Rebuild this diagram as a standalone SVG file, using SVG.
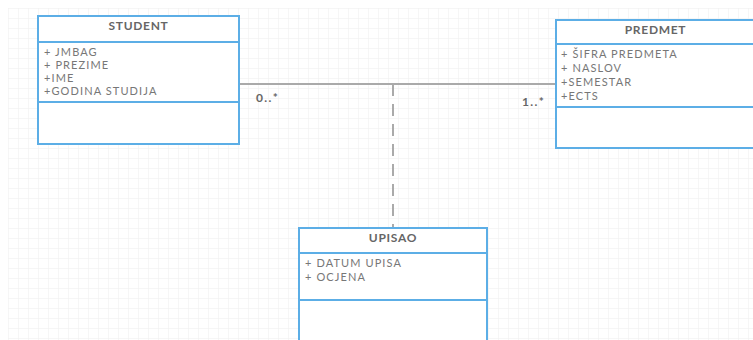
<svg xmlns="http://www.w3.org/2000/svg" width="753" height="340" viewBox="0 0 753 340">
<defs>
<pattern id="grid" x="8" y="8" width="10" height="10" patternUnits="userSpaceOnUse">
<path d="M0 0H10M0 0V10" fill="none" stroke="#eeeeee" stroke-width="1"/>
</pattern>
<style>
.box{fill:#ffffff;stroke:#5caee6;stroke-width:2}
.div{stroke:#5caee6;stroke-width:2}
.title{font-family:Lato,"Liberation Sans",sans-serif;font-size:12px;font-weight:bold;fill:#666666;text-anchor:middle;letter-spacing:0.7px}
.attr{font-family:Lato,"Liberation Sans",sans-serif;font-size:11px;fill:#777777;letter-spacing:1.1px}
.mult{font-family:Lato,"Liberation Sans",sans-serif;font-size:12px;font-weight:bold;fill:#666666;letter-spacing:1.4px}
.conn{stroke:#aaaaaa;stroke-width:2;fill:none}
</style>
</defs>
<rect width="753" height="340" fill="#ffffff"/>
<rect x="8" y="8" width="745" height="332" fill="url(#grid)"/>
<g id="connectors">
<line class="conn" x1="239" y1="84" x2="556" y2="84"/>
<line class="conn" x1="393" y1="84" x2="393" y2="228" stroke-dasharray="12 8"/>
<text class="mult" x="256" y="102">0..*</text>
<text class="mult" x="522" y="106">1..*</text>
</g>
<g id="student">
<rect class="box" x="38" y="16" width="201" height="128"/>
<line class="div" x1="38" y1="42" x2="239" y2="42"/>
<line class="div" x1="38" y1="102" x2="239" y2="102"/>
<text class="title" x="138.5" y="29.5">STUDENT</text>
<text class="attr" x="44" y="56">+ JMBAG</text>
<text class="attr" x="44" y="69">+ PREZIME</text>
<text class="attr" x="44" y="82">+IME</text>
<text class="attr" x="44" y="95">+GODINA STUDIJA</text>
</g>
<g id="predmet">
<rect class="box" x="556" y="20" width="199" height="128"/>
<line class="div" x1="556" y1="44" x2="755" y2="44"/>
<line class="div" x1="556" y1="107" x2="755" y2="107"/>
<text class="title" x="655.5" y="33.5">PREDMET</text>
<text class="attr" x="561" y="58">+ ŠIFRA PREDMETA</text>
<text class="attr" x="561" y="72">+ NASLOV</text>
<text class="attr" x="561" y="86">+SEMESTAR</text>
<text class="attr" x="561" y="100">+ECTS</text>
</g>
<g id="upisao">
<rect class="box" x="299" y="228" width="188" height="130"/>
<line class="div" x1="299" y1="253" x2="487" y2="253"/>
<line class="div" x1="299" y1="300" x2="487" y2="300"/>
<text class="title" x="393" y="241.5">UPISAO</text>
<text class="attr" x="305" y="267">+ DATUM UPISA</text>
<text class="attr" x="305" y="281">+ OCJENA</text>
</g>
</svg>
